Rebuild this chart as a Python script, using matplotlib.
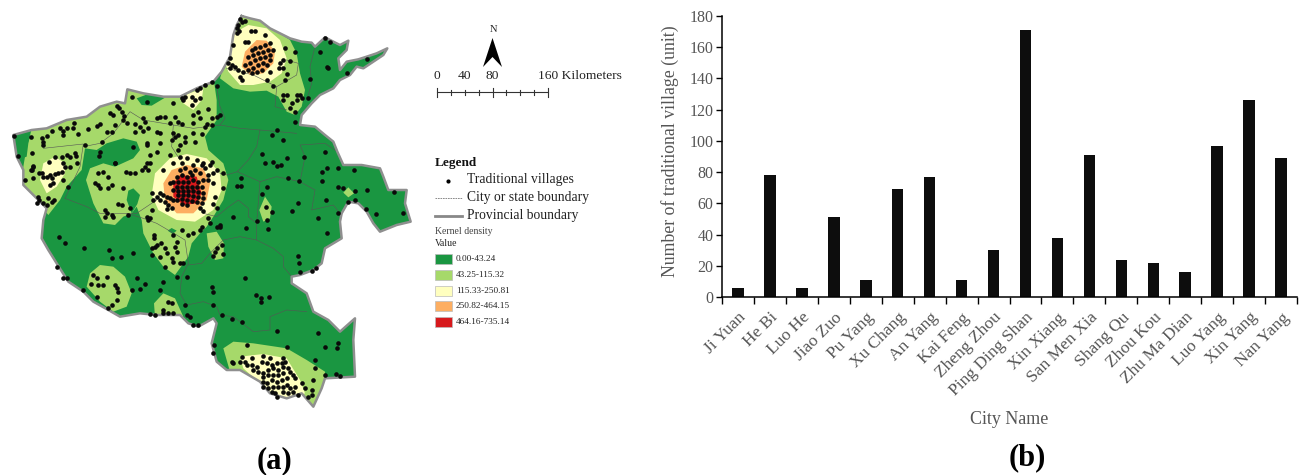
import numpy as np
import matplotlib
matplotlib.use("Agg")
import matplotlib.pyplot as plt
from matplotlib.patches import Polygon, Rectangle

plt.rcParams['font.family'] = ['Liberation Serif', 'DejaVu Serif']

# bar chart data
cities = ["Ji Yuan", "He Bi", "Luo He", "Jiao Zuo", "Pu Yang", "Xu Chang", "An Yang", "Kai Feng", "Zheng Zhou",
          "Ping Ding Shan", "Xin Xiang", "San Men Xia", "Shang Qu", "Zhou Kou", "Zhu Ma Dian", "Luo Yang",
          "Xin Yang", "Nan Yang"]
village_counts = [6, 78, 6, 51, 11, 69, 77, 11, 30, 171, 38, 91, 24, 22, 16, 97, 126, 89]

# legend classes
density_labels = ["0.00-43.24", "43.25-115.32", "115.33-250.81", "250.82-464.15", "464.16-735.14"]
density_colors = ["#1a9641", "#a6d96a", "#ffffbf", "#fdae61", "#d7191c"]

# map shapes (units are 1/3 px)
province = [(725,48),(750,55),(780,62),(810,85),(840,100),(870,115),(905,125),(935,128),(945,140),(975,112),
            (1000,125),(1020,135),(1045,122),(1040,150),(1015,175),(1020,210),(1040,185),(1075,178),(1100,170),
            (1130,160),(1162,145),(1150,165),(1120,185),(1090,205),(1070,200),(1050,225),(1020,240),(1000,265),
            (960,285),(935,310),(905,345),(900,375),(945,380),(975,405),(1000,425),(1012,455),(1030,495),(1085,495),
            (1140,505),(1150,530),(1165,570),(1220,570),(1215,610),(1232,665),(1190,675),(1140,695),(1120,670),
            (1100,635),(1075,610),(1045,605),(1025,640),(1020,665),(1025,715),(975,745),(965,790),(940,810),(900,825),
            (875,830),(875,850),(920,880),(940,935),(985,960),(1020,995),(1065,955),(1060,1020),(1065,1130),(975,1135),
            (965,1165),(940,1220),(905,1180),(860,1195),(810,1180),(780,1145),(720,1110),(680,1110),(650,1085),
            (635,1030),(650,970),(640,955),(595,980),(565,970),(540,945),(470,945),(420,940),(360,950),(325,930),
            (280,905),(250,875),(205,845),(170,790),(145,750),(125,715),(130,660),(140,625),(100,585),(70,555),(70,510),
            (50,470),(40,405),(95,390),(140,385),(200,360),(260,350),(300,320),(350,305),(375,310),(382,268),(430,280),
            (490,290),(540,290),(590,265),(640,245),(665,215),(690,170),(700,105),(710,75)]

light_zones = [
    [(640,230),(650,300),(650,360),(615,410),(625,450),(670,490),(685,540),(670,600),(640,650),(620,680),(600,700),
     (575,730),(565,770),(525,825),(490,800),(460,760),(430,700),(425,660),(410,620),(395,640),(370,650),(345,675),
     (310,670),(280,610),(258,540),(270,505),(310,490),(345,500),(400,475),(420,450),(410,425),(370,415),(320,430),
     (290,450),(255,445),(245,510),(200,560),(180,600),(145,645),(100,590),(60,560),(70,500),(80,440),(90,410),
     (30,380),(300,250),(380,250)],
    [(740,30),(780,50),(830,95),(870,120),(890,160),(900,220),(915,270),(905,320),(885,345),(860,335),(835,290),
     (800,272),(750,275),(700,265),(660,235),(680,170),(690,100)],
    [(300,795),(340,800),(375,830),(395,880),(380,920),(340,935),(300,905),(260,860),(270,820)],
    [(490,880),(525,895),(550,950),(465,950),(462,910)],
    [(620,700),(650,695),(672,730),(670,775),(645,780),(625,740)],
    [(795,590),(815,620),(810,655),(790,665),(778,630)],
    [(1045,562),(1062,580),(1045,592),(1030,578)],
    [(670,1045),(700,1025),(760,1030),(860,1045),(920,1080),(975,1115),(975,1150),(950,1230),(800,1200),(690,1115)],
]
dark_holes = [
    [(410,295),(450,280),(495,293),(455,317),(425,315)],
    [(400,565),(420,585),(412,612),(395,640),(380,600),(385,572)],
    [(515,684),(530,692),(518,702),(503,692)],
    [(30,390),(95,385),(85,430),(80,470),(50,480)],
]
cream_zones = [
    [(720,40),(700,100),(745,75),(800,85),(840,120),(860,175),(845,220),(810,245),(760,255),(720,255),(685,215),(670,175)],
    [(560,462),(620,475),(660,520),(665,570),(640,630),(585,665),(530,660),(475,630),(455,585),(465,520),(510,475)],
    [(165,470),(195,490),(195,520),(170,560),(140,580),(120,540),(130,490)],
    [(555,285),(610,265),(605,300),(580,330),(550,310)],
    [(720,1070),(790,1062),(860,1075),(900,1140),(915,1180),(860,1200),(810,1190),(780,1150),(730,1105)],
]
orange_zones = [
    [(770,120),(800,122),(825,155),(820,190),(790,220),(750,225),(725,200),(735,155)],
    [(560,495),(610,505),(630,550),(620,600),(580,640),(530,640),(495,600),(490,550),(515,510)],
]
red_zones = [
    [(540,525),(590,530),(605,580),(590,610),(550,615),(520,590),(520,550)],
]

city_lines = [
    [(195,595),(260,620),(300,640),(380,640),(430,655),(470,670),(530,705),(555,720),(565,790),(545,830),(540,880),
     (560,915),(610,905),(650,920),(660,945),(700,950),(760,995),(810,990),(810,950),(860,930),(920,935)],
    [(610,640),(650,650),(680,625),(715,600),(745,625),(745,650),(770,670),(770,720),(720,710),(670,720),(630,760),
     (605,790),(565,795)],
    [(770,720),(820,745),(850,770),(850,800),(875,830)],
    [(650,260),(660,320),(675,355),(660,375),(720,385),(780,390),(770,440),(745,480),(712,515),(680,525),(660,520)],
    [(712,515),(780,545),(830,530),(900,545),(945,570),(935,630),(1000,615),(1020,640)],
    [(780,545),(770,670)],
    [(780,390),(890,400)],
    [(1012,455),(975,430),(900,435),(915,470),(900,545)],
    [(680,205),(760,225),(830,260),(890,225),(895,190),(860,180)],
    [(830,260),(825,320),(860,330)],
    [(945,140),(930,200),(935,250),(920,300)],
    [(250,440),(300,430),(340,400),(390,335),(430,360),(520,375),(580,385),(660,375)],
    [(520,375),(515,440),(540,480)],
    [(130,445),(250,432),(240,500),(195,595)],
    [(380,640),(410,640),(470,600)],
]

villages_west = [(42,407),(55,468),(92,412),(97,458),(100,498),(95,510),(98,535),(125,415),(130,425),(128,435),(140,408),
    (155,392),(180,385),(190,392),(188,405),(200,385),(222,368),(220,385),(235,402),(290,378),(300,372),(265,388),
    (330,340),(340,345),(350,318),(358,325),(365,335),(372,348),(368,360),(345,375),(335,395),(320,395),(305,425),
    (255,435),(300,455),(298,468),(345,490),(225,460),(228,468),(232,490),(210,470),(200,465),(185,470),(165,470),
    (148,485),(190,490),(195,500),(210,500),(185,515),(175,520),(165,522),(150,525),(140,530),(125,520),(118,518),
    (130,530),(155,535),(160,550),(150,555),(190,540),(205,562),(115,590),(118,600),(112,610),(145,595),(155,605),
    (140,615),(130,610),(162,600),(100,500),(92,510),(75,540)]
villages_north_belt = [(395,290),(442,305),(520,310),(545,295),(555,290),(550,300),(575,290),(590,270),(600,265),(615,255),
    (635,245),(650,258),(575,315),(585,300),(600,295),(625,328),(580,345),(595,335),(600,355),(635,355),(650,350),(660,345),
    (380,370),(405,372),(420,380),(430,355),(435,365),(430,392),(445,385),(470,355),(480,350),(495,352),(510,368),(525,352),
    (535,365),(545,372),(580,368),(615,382),(620,372),(635,375),(405,395),(470,395),(480,400),(520,400),(525,410),(515,420),
    (535,405),(555,410),(580,400),(605,402),(585,425),(555,425),(480,428),(440,435),(470,455),(450,465),(440,490),(435,500),
    (450,490),(445,510),(425,510),(405,518),(390,518),(378,517),(540,435),(535,450),(540,470),(510,465),(560,475),(590,480),
    (610,488),(635,485),(650,510),(670,520),(345,490),(400,440)]
villages_mid_west = [(295,520),(310,515),(325,530),(335,555),(325,565),(285,550),(295,555),(300,565),(370,565),(355,612),
    (365,615),(315,630),(320,640),(335,645),(315,650),(340,652),(385,645),(390,625),(440,650),(450,655),(445,660),(440,430)]
villages_center = [(455,580),(470,590),(480,578),(490,585),(500,590),(510,595),(520,600),(495,605),(505,615),(515,625),
    (530,600),(460,600),(480,600),(540,510),(555,505),(570,515),(585,510),(600,520),(615,505),(625,525),(640,520),(605,495),
    (575,525),(560,530),(545,525),(530,530),(520,545),(510,550),(535,545),(550,545),(565,545),(580,540),(595,545),(610,540),
    (625,540),(640,550),(530,560),(545,560),(560,560),(575,560),(590,560),(605,560),(520,570),(535,572),(550,572),(565,572),
    (580,572),(595,575),(610,580),(535,585),(550,585),(565,585),(580,588),(595,590),(610,595),(545,598),(560,600),(575,602),
    (590,605),(605,610),(545,612),(560,615),(600,625),(610,632),(640,612),(645,590),(455,630),(500,628),(545,490),(520,490),
    (490,510),(625,655),(630,670),(650,680),(660,675),(580,495),(630,495),(670,565),(650,625)]
villages_south_mid = [(462,705),(462,715),(465,740),(455,745),(470,735),(482,730),(520,705),(530,725),(545,690),(565,705),
    (580,700),(600,690),(605,680),(495,745),(500,760),(525,740),(530,755),(455,765),(480,770),(515,775),(520,785),(495,800),
    (550,790),(540,790),(650,745),(645,755),(640,768),(668,762),(665,735),(560,830),(490,845),(530,830)]
villages_southwest = [(178,712),(195,730),(252,745),(327,750),(362,770),(398,760),(335,775),(172,800),(190,835),(200,835),
    (280,825),(290,835),(295,855),(308,855),(345,855),(350,865),(355,875),(322,830),(272,852),(290,890),(335,915),(350,900),
    (325,925),(397,870),(420,868),(435,853),(410,835),(480,870),(250,870),(505,905),(515,910),(490,930),(490,940),(505,938),
    (520,938),(450,943),(465,945),(555,915),(560,945),(570,952),(580,975),(595,975)]
villages_east = [(832,390),(815,405),(850,420),(785,462),(795,490),(820,485),(830,497),(842,495),(860,475),(865,533),(722,533),
    (712,558),(722,558),(800,562),(785,582),(797,622),(815,635),(800,660),(805,688),(772,662),(737,685),(700,652),(660,680),
    (895,608),(877,632),(955,655),(982,700),(913,470),(975,455),(965,515),(980,505),(1015,505),(1062,510),(965,542),(898,542),
    (1015,562),(1030,565),(1065,572),(1100,570),(1182,575),(978,600),(1045,605),(1065,600),(1098,628),(1128,642),(1208,640),
    (1015,640),(885,365),(897,790),(893,767),(900,815),(935,812),(948,805),(735,835),(767,885),(808,892),(782,895),(782,905),
    (635,862),(640,875),(640,915),(667,945),(697,958),(725,965),(830,992),(955,998),(1013,1028),(975,1042),(1010,1045),
    (862,1040),(642,1035),(640,1060),(740,1035),(945,1080),(945,1105),(975,1125),(1008,1122),(1020,1128)]
villages_north = [(720,58),(725,65),(715,75),(712,85),(718,92),(735,62),(710,100),(752,92),(765,92),(795,105),(745,125),(735,125),
    (855,145),(885,155),(850,180),(870,182),(840,190),(850,205),(838,205),(860,222),(855,240),(820,258),(800,240),(810,215),
    (700,135),(690,175),(685,190),(695,195),(705,200),(715,210),(690,205),(725,240),(720,230),(755,150),(765,145),(780,140),
    (795,135),(810,130),(820,150),(805,150),(790,155),(775,160),(760,165),(745,170),(810,165),(795,170),(780,175),(765,180),
    (750,190),(735,195),(790,190),(775,195),(760,205),(745,210),(730,215),(770,215),(785,210),(810,180),(800,195),(755,220),
    (848,285),(860,285),(890,285),(900,285),(850,300),(875,310),(890,300),(905,295),(885,335),(870,325),(925,295),(930,237),
    (980,200),(985,205),(960,155),(975,115),(990,125),(1100,178),(1040,218)]
villages_south = [(725,1070),(720,1085),(735,1085),(755,1075),(790,1068),(810,1075),(850,1075),(695,1085),(700,1090),(755,1095),
    (770,1100),(785,1085),(800,1090),(815,1095),(830,1090),(845,1090),(855,1085),(740,1095),(760,1110),(775,1115),(790,1120),
    (805,1110),(820,1105),(835,1110),(850,1100),(865,1105),(870,1115),(880,1125),(885,1135),(790,1130),(805,1125),(820,1125),
    (835,1125),(850,1120),(790,1145),(800,1150),(815,1140),(830,1145),(845,1140),(860,1135),(860,1155),(870,1165),(885,1160),
    (905,1150),(915,1165),(790,1160),(805,1165),(820,1160),(835,1160),(850,1160),(815,1175),(825,1180),(830,1190),(850,1175),
    (865,1180),(880,1175),(895,1185),(925,1190),(935,1185),(937,1170),(940,1140)]

# whole figure in pixel coords
fig = plt.figure(figsize=(13.06, 4.75), dpi=100)
ax_map = fig.add_axes([0, 0, 1, 1])
ax_map.set_xlim(0, 1306)
ax_map.set_ylim(475, 0)
ax_map.axis('off')


def to_px(points):
    return np.array(points) / 3.0


# province base plus the density zones, cut to the province shape
base = Polygon(to_px(province), closed=True, facecolor=density_colors[0], edgecolor='none', zorder=1)
ax_map.add_patch(base)
layers = [(light_zones, density_colors[1], 2), (dark_holes, density_colors[0], 3), (cream_zones, density_colors[2], 4),
          (orange_zones, density_colors[3], 5), (red_zones, density_colors[4], 6)]
for zones, color, z in layers:
    for zone in zones:
        p = Polygon(to_px(zone), closed=True, facecolor=color, edgecolor='none', zorder=z)
        ax_map.add_patch(p)
        p.set_clip_path(base)

for line in city_lines:
    pts = to_px(line)
    ax_map.plot(pts[:, 0], pts[:, 1], color='#555555', lw=0.4, zorder=7)

edge = to_px(province + province[:1])
ax_map.plot(edge[:, 0], edge[:, 1], color='#8f8f8f', lw=1.8, zorder=8)

all_villages = (villages_west + villages_north_belt + villages_mid_west + villages_center + villages_south_mid
                + villages_southwest + villages_east + villages_north + villages_south)
vpts = to_px(all_villages)
ax_map.scatter(vpts[:, 0], vpts[:, 1], s=11, color='#0a0a0a', linewidths=0, zorder=9)

# north arrow and scale bar
ax_map.text(493, 29, "N", fontsize=7.5, ha='center', va='center', color='#222222')
ax_map.add_patch(Polygon([(492.5, 38), (483, 67), (492.5, 57), (502, 67)], closed=True, facecolor='black', edgecolor='none'))
ax_map.plot([437, 548], [92, 92], color='#333333', lw=0.8)
for i in range(9):
    tx = 437 + i * 111 / 8
    half = 4.5 if i in (0, 4, 8) else 2.5
    ax_map.plot([tx, tx], [92 - half, 92 + half], color='#333333', lw=0.8)
for label, tx in [("0", 437), ("40", 465), ("80", 492.5)]:
    ax_map.text(tx, 76, label, fontsize=9.7, ha='center', va='center', color='#222222')
ax_map.text(538, 76, "160 Kilometers", fontsize=9.7, ha='left', va='center', color='#222222')

# legend
ax_map.text(435, 163, "Legend", fontsize=9.5, fontweight='bold', ha='left', va='center', color='#111111')
ax_map.scatter([448], [181], s=9, color='black', linewidths=0)
ax_map.text(467, 180, "Traditional villages", fontsize=9.8, ha='left', va='center', color='#222222')
ax_map.plot([435, 462], [198, 198], color='#777777', lw=0.6, ls=(0, (2, 1)))
ax_map.text(467, 198, "City or state boundary", fontsize=9.8, ha='left', va='center', color='#222222')
ax_map.plot([435, 462], [216, 216], color='#888888', lw=2.0)
ax_map.text(467, 216, "Provincial boundary", fontsize=9.8, ha='left', va='center', color='#222222')
ax_map.text(435, 232, "Kernel density", fontsize=7, ha='left', va='center', color='#444444')
ax_map.text(435, 244, "Value", fontsize=7, ha='left', va='center', color='#222222')
for i, (label, color) in enumerate(zip(density_labels, density_colors)):
    sy = 254 + i * 15.8
    ax_map.add_patch(Rectangle((435, sy), 17, 10, facecolor=color, edgecolor='#bbbbbb', lw=0.5))
    ax_map.text(456, sy + 5, label, fontsize=6.7, ha='left', va='center', color='#222222')

# panel labels
ax_map.text(275, 461, "(a)", fontsize=22, fontweight='bold', ha='center', va='center', color='black')
ax_map.text(1027, 458, "(b)", fontsize=22, fontweight='bold', ha='center', va='center', color='black')

# bar chart
ax = fig.add_axes([722 / 1306, 1 - 297 / 475, (1297 - 722) / 1306, (297 - 16) / 475])
ax.patch.set_alpha(0)
x = np.arange(len(cities)) + 0.5
ax.bar(x, village_counts, width=0.36, color='#0d0d0d')
ax.set_xlim(0, len(cities))
ax.set_ylim(0, 180)
ax.set_yticks(range(0, 181, 20))
ax.set_xticks(range(len(cities) + 1))
ax.set_xticklabels([])
ax.set_xticks(x, minor=True)
ax.set_xticklabels(cities, minor=True, rotation=45, ha='right', va='top', rotation_mode='anchor', fontsize=12.5, color='#555555')
ax.tick_params(axis='x', which='major', length=5, width=1, direction='out')
ax.tick_params(axis='x', which='minor', length=0, pad=9)
ax.tick_params(axis='y', length=4, width=1, direction='out', labelsize=11.5, labelcolor='#555555', pad=2)
for s in ['top', 'right']:
    ax.spines[s].set_visible(False)
for s in ['left', 'bottom']:
    ax.spines[s].set_linewidth(1.1)
ax_map.text(670, 151, "Number of traditional village (unit)", fontsize=12.8, rotation=90, ha='center', va='center', color='#555555')
ax_map.text(1009, 420, "City Name", fontsize=13, ha='center', va='center', color='#555555')

fig.savefig("out.png", dpi=100)
